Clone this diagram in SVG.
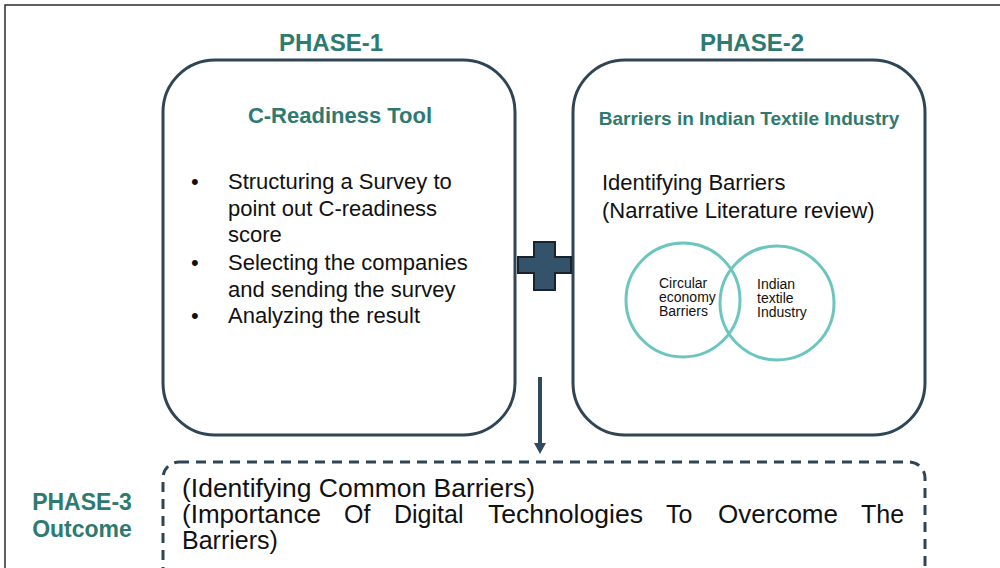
<svg xmlns="http://www.w3.org/2000/svg" width="1000" height="568" viewBox="0 0 1000 568">
  <defs>
    <style>
      .frame { fill: none; stroke: #2b2b2b; stroke-width: 1.5; }
      .box { fill: #ffffff; stroke: #2f4556; stroke-width: 3; }
      .dash { fill: none; stroke: #2f4556; stroke-width: 3; stroke-dasharray: 10 7; }
      .phase { font-family: "Liberation Sans", Arial, sans-serif; font-weight: bold; fill: #2e7a70; text-anchor: middle; }
      .head { font-family: "Liberation Sans", Arial, sans-serif; font-weight: bold; fill: #2e7a70; text-anchor: middle; }
      .body { font-family: "Liberation Sans", Arial, sans-serif; fill: #111111; font-size: 22px; }
      .small { font-family: "Liberation Sans", Arial, sans-serif; fill: #111111; font-size: 14px; }
      .out { font-family: "Liberation Sans", Arial, sans-serif; fill: #111111; font-size: 25px; }
      .venn { fill: none; stroke: #6cc6bf; stroke-width: 3; }
      .plus { fill: #34536b; stroke: #18232d; stroke-width: 2; }
      .link { stroke: #2f4a5c; stroke-width: 4; fill: none; }
    </style>
    <marker id="arrowhead" markerWidth="12" markerHeight="12" refX="0" refY="6" orient="auto" markerUnits="userSpaceOnUse">
      <path d="M0,0 L11,6 L0,12 Z" fill="#2f4a5c"/>
    </marker>
  </defs>

  <rect width="1000" height="568" fill="#ffffff"/>
  <!-- outer frame -->
  <path class="frame" d="M5,568 L5,5 L1000,5"/>

  <!-- phase titles -->
  <text class="phase" x="331" y="51" font-size="24">PHASE-1</text>
  <text class="phase" x="752" y="51" font-size="24">PHASE-2</text>

  <!-- Phase 1: C-Readiness Tool -->
  <g id="phase1">
    <rect class="box" x="163" y="60" width="352" height="375" rx="52" ry="52"/>
    <text class="head" x="340" y="123" font-size="22">C-Readiness Tool</text>
    <g class="body">
      <text x="191" y="189">•</text>
      <text x="228" y="189">Structuring a Survey to</text>
      <text x="228" y="216">point out C-readiness</text>
      <text x="228" y="242">score</text>
      <text x="191" y="270">•</text>
      <text x="228" y="270">Selecting the companies</text>
      <text x="228" y="297">and sending the survey</text>
      <text x="191" y="323">•</text>
      <text x="228" y="323">Analyzing the result</text>
    </g>
  </g>

  <!-- Phase 2: Barriers -->
  <g id="phase2">
    <rect class="box" x="573" y="60" width="352" height="375" rx="52" ry="52"/>
    <text class="head" x="749" y="125" font-size="19">Barriers in Indian Textile Industry</text>
    <text class="body" x="602" y="190">Identifying Barriers</text>
    <text class="body" x="602" y="218">(Narrative Literature review)</text>
    <g id="venn">
      <circle class="venn" cx="683" cy="300" r="57"/>
      <circle class="venn" cx="777" cy="303" r="57"/>
      <text class="small" x="659" y="288">Circular</text>
      <text class="small" x="659" y="302">economy</text>
      <text class="small" x="659" y="316">Barriers</text>
      <text class="small" x="757" y="289">Indian</text>
      <text class="small" x="757" y="303">textile</text>
      <text class="small" x="757" y="317">Industry</text>
    </g>
  </g>

  <!-- plus sign joining the two phases -->
  <g id="plus">
    <path class="plus" d="M534,242 H555 V257 H571 V273 H555 V290 H534 V273 H518 V257 H534 Z"/>
  </g>

  <!-- connectors -->
  <g id="connectors">
    <line class="link" x1="540" y1="377" x2="540" y2="443" marker-end="url(#arrowhead)"/>
  </g>

  <!-- Phase 3: Outcome -->
  <g id="phase3">
    <text class="phase" x="82" y="510" font-size="23">PHASE-3</text>
    <text class="phase" x="82" y="537" font-size="23">Outcome</text>
    <rect class="dash" x="163" y="462" width="762" height="130" rx="16" ry="16"/>
    <text class="out" x="182" y="497" textLength="353" lengthAdjust="spacingAndGlyphs">(Identifying Common Barriers)</text>
    <!-- justified line: words placed one by one -->
    <text class="out" y="523"><tspan x="182" textLength="139" lengthAdjust="spacingAndGlyphs">(Importance</tspan><tspan x="344">Of</tspan><tspan x="394">Digital</tspan><tspan x="488" textLength="155" lengthAdjust="spacingAndGlyphs">Technologies</tspan><tspan x="666">To</tspan><tspan x="718" textLength="120" lengthAdjust="spacingAndGlyphs">Overcome</tspan><tspan x="861">The</tspan></text>
    <text class="out" x="182" y="549">Barriers)</text>
  </g>
</svg>
